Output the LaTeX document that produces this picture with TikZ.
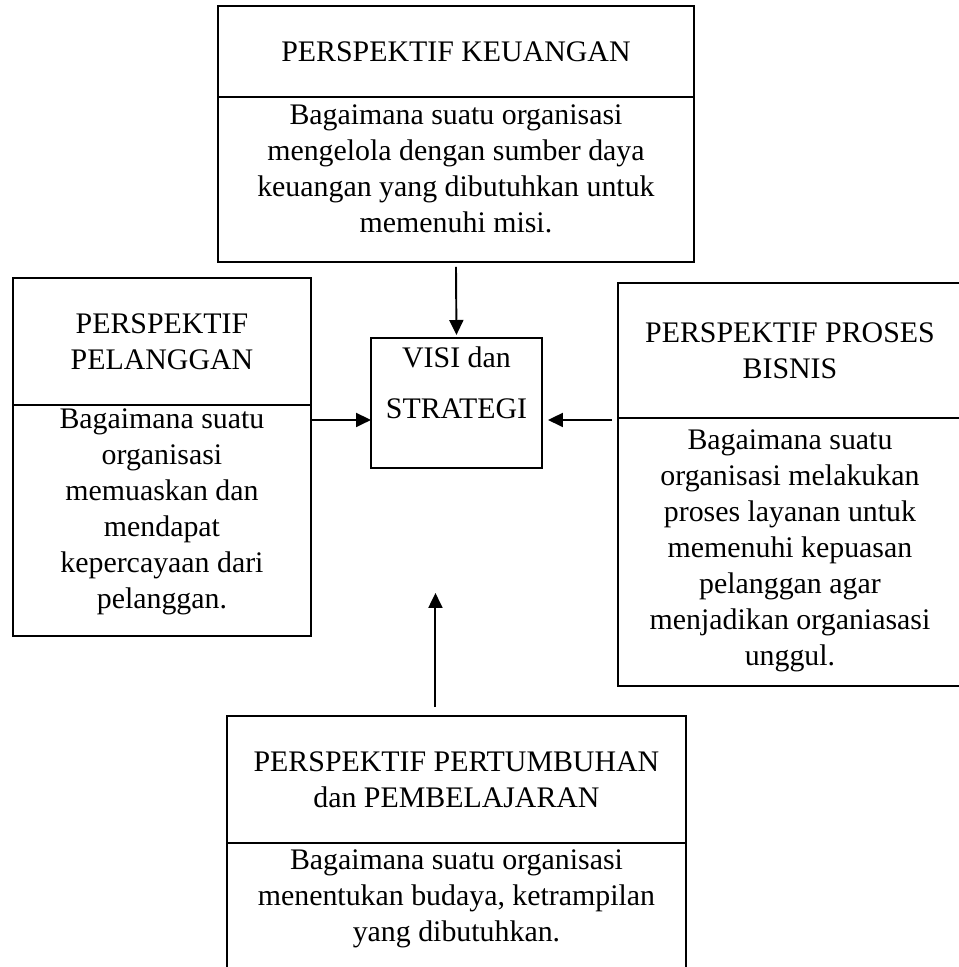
\documentclass[tikz,border=0pt]{standalone}
\usepackage{fontspec}
\setmainfont{Liberation Serif}
\usetikzlibrary{positioning,arrows.meta}

\tikzstyle{judul} = [rectangle, draw, line width=0.8pt, align=center,
                     inner sep=0pt, outer sep=0pt]
\tikzstyle{isi}   = [rectangle, draw, line width=0.8pt, inner sep=0pt,
                     outer sep=0pt]
\tikzstyle{panah} = [draw, line width=1.1pt, -{Triangle[length=0.3cm,width=0.28cm]}]
% height, width, top padding, text
\newcommand{\isiteks}[4]{%
  \parbox[c][#1][t]{#2}{\centering\vspace*{#3}#4}%
}

\begin{document}
\begin{tikzpicture}[x=0.02cm, y=-0.02cm, font=\fontsize{17}{20.5}\selectfont]
    \useasboundingbox (0,0) rectangle (959,967);

    \node[judul, anchor=north west, minimum width=9.52cm, minimum height=1.82cm] (keuH) at (218,6) {PERSPEKTIF KEUANGAN};
    \node[isi, below=0pt of keuH] (keuB) {\isiteks{3.3cm}{9.52cm}{0.16cm}{Bagaimana suatu organisasi\\ mengelola dengan sumber daya\\ keuangan yang dibutuhkan untuk\\ memenuhi misi.}};

    \node[judul, anchor=north west, minimum width=5.96cm, minimum height=2.54cm] (plgH) at (13,278) {PERSPEKTIF\\ PELANGGAN};
    \node[isi, below=0pt of plgH] (plgB) {\isiteks{4.62cm}{5.96cm}{0.08cm}{Bagaimana suatu\\ organisasi\\ memuaskan dan\\ mendapat\\ kepercayaan dari\\ pelanggan.}};

    \node[isi, anchor=north west] (visi) at (371,338) {\isiteks{2.6cm}{3.42cm}{0.18cm}{\fontsize{17}{29}\selectfont VISI dan\\ STRATEGI}};

    \node[judul, anchor=north west, minimum width=6.88cm, minimum height=2.7cm] (bisH) at (618,283) {PERSPEKTIF PROSES\\ BISNIS};
    \node[isi, below=0pt of bisH] (bisB) {\isiteks{5.36cm}{6.88cm}{0.24cm}{Bagaimana suatu\\ organisasi melakukan\\ proses layanan untuk\\ memenuhi kepuasan\\ pelanggan agar\\ menjadikan organiasasi\\ unggul.}};

    \node[judul, anchor=north west, minimum width=9.18cm, minimum height=2.54cm] (tumH) at (227,716) {PERSPEKTIF PERTUMBUHAN\\ dan PEMBELAJARAN};
    \node[isi, below=0pt of tumH] (tumB) {\isiteks{3.2cm}{9.18cm}{0.14cm}{Bagaimana suatu organisasi\\ menentukan budaya, ketrampilan\\ yang dibutuhkan.}};

    \coordinate (kiri) at ([yshift=-0.3cm]plgH.south east);
    \coordinate (kanan) at ([xshift=-0.12cm,yshift=-0.04cm]bisH.south west);
    \coordinate (bawah) at ([xshift=-0.42cm,yshift=0.18cm]tumH.north);

    \draw[panah, shorten <=0.1cm, shorten >=0.06cm] (keuB.south) -- (visi.north);
    \draw[panah] (kiri) -- (kiri -| visi.west);
    \draw[panah, shorten >=0.12cm] (kanan) -- (kanan -| visi.east);
    \draw[panah, shorten >=2.5cm] (bawah) -- (bawah |- visi.south);
\end{tikzpicture}
\end{document}
